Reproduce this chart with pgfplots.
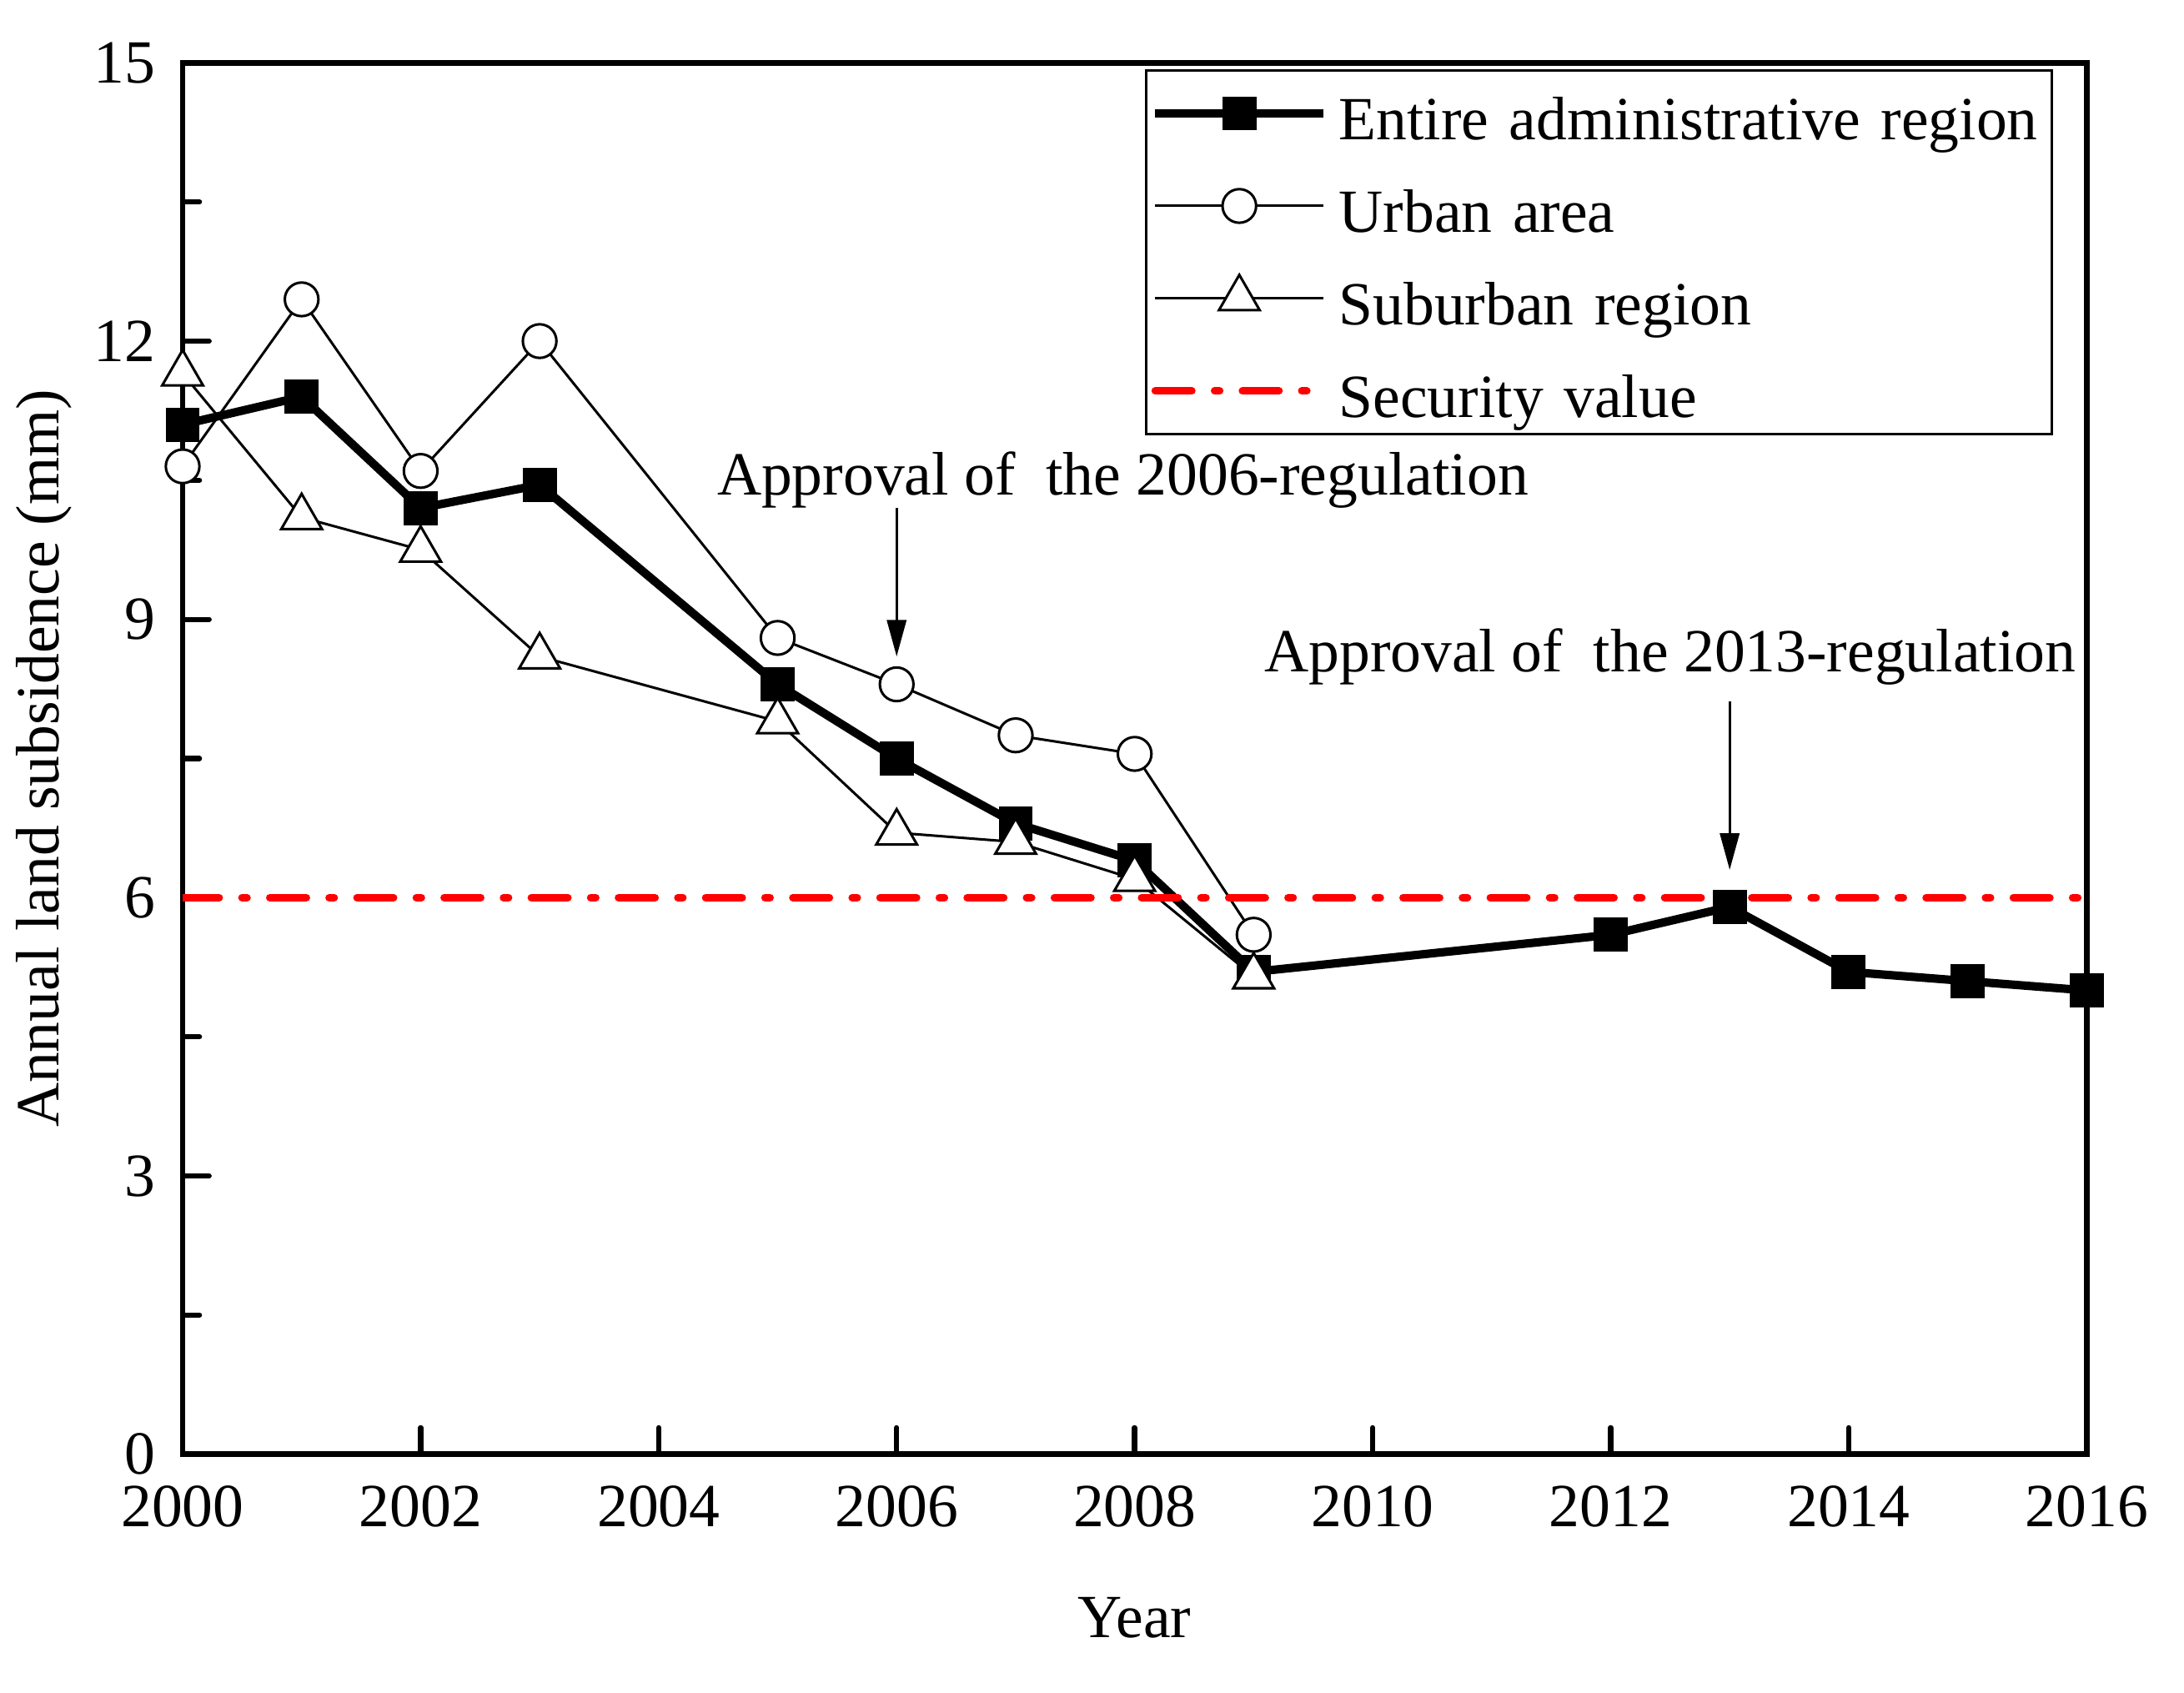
\documentclass[border=0pt]{standalone}
\usepackage{fontspec}
\setmainfont{Liberation Serif}
\usepackage{pgfplots}
\pgfplotsset{compat=1.18}
\usetikzlibrary{arrows.meta}

\newcommand\fs{\fontsize{14.6}{17}\selectfont}

\begin{document}
\begin{tikzpicture}
\begin{axis}[
  scale only axis, width=453pt, height=331pt,
  xmin=2000, xmax=2016, ymin=0, ymax=15,
  xtick={2000,2002,...,2016}, ytick={0,3,...,15}, minor y tick num=1,
  xtick pos=left, ytick pos=left, tick align=inside,
  major tick length=6.3pt, minor tick length=4pt,
  every tick/.style={black, line width=1.25pt, line cap=round},
  axis line style={line width=1.3pt},
  /pgf/number format/1000 sep={},
  /pgf/number format/assume math mode=true,
  ticklabel style={font=\fs},
  xticklabel style={yshift=-4pt},
  yticklabel style={xshift=-2.9pt},
  label style={font=\fs},
  xlabel={Year}, ylabel={Annual land subsidence (mm)},
  xlabel style={at={(axis description cs:0.5,-0.1178)}, anchor=center},
  ylabel style={at={(axis description cs:-0.0728,0.5)}, anchor=center, inner sep=0pt},
  legend cell align=left,
  legend image code/.code={\draw[mark repeat=2,mark phase=2,#1] plot coordinates {(0pt,0pt) (20pt,0pt) (40pt,0pt)};},
  legend style={at={(1,1)}, anchor=north east, xshift=-8pt, yshift=-1.5pt,
    draw=black, line width=0.6pt, font=\fs, inner xsep=1.1pt, inner ysep=3.75pt,
    nodes={inner sep=0pt, text height=12.8pt, text depth=0.2pt},
    row sep=9pt,
    /tikz/every odd column/.append style={column sep=2.7pt},
    /tikz/every even column/.append style={text width=168.5pt, align=left}},
]
\addplot[black, line width=2pt, mark=square*, mark size=3.75pt, mark options={solid, line width=0.6pt}]
  coordinates {(2000,11.1) (2001,11.4) (2002,10.2) (2003,10.45) (2005,8.3) (2006,7.5)
    (2007,6.8) (2008,6.4) (2009,5.2) (2012,5.6) (2013,5.9) (2014,5.2) (2015,5.1) (2016,5.0)};
\addplot[black, line width=0.6pt, mark=*, mark size=4.0pt, mark options={fill=white}]
  coordinates {(2000,10.65) (2001,12.45) (2002,10.6) (2003,12.0) (2005,8.8) (2006,8.3)
    (2007,7.75) (2008,7.55) (2009,5.6)};
\addplot[black, line width=0.6pt, mark=triangle*, mark size=5.6pt, mark options={fill=white}]
  coordinates {(2000,11.65) (2001,10.1) (2002,9.75) (2003,8.6) (2005,7.9) (2006,6.7)
    (2007,6.6) (2008,6.2) (2009,5.15)};
\addplot[red, line width=1.8pt, line cap=round,
  dash pattern=on 8.7pt off 5.42pt on 1.2pt off 5.42pt]
  coordinates {(2000,6) (2016,6)};
\legend{Entire administrative region, Urban area, Suburban region, Security value}

\node[font=\fs] at (axis cs:2007.9,10.5) {Approval of\ \ the 2006-regulation};
\draw[-{Triangle[length=8.7pt,width=4.6pt]}, line width=0.6pt] (axis cs:2006,10.2) -- (axis cs:2006,8.6);
\node[font=\fs] at (axis cs:2012.5,8.6) {Approval of\ \ the 2013-regulation};
\draw[-{Triangle[length=8.7pt,width=4.6pt]}, line width=0.6pt] (axis cs:2013,8.12) -- (axis cs:2013,6.3);
\end{axis}
\pgfresetboundingbox
\path (current axis.south west) ++(-43.45pt,-56.65pt) rectangle ([xshift=23.15pt,yshift=14.94pt]current axis.north east);
\end{tikzpicture}
\end{document}
